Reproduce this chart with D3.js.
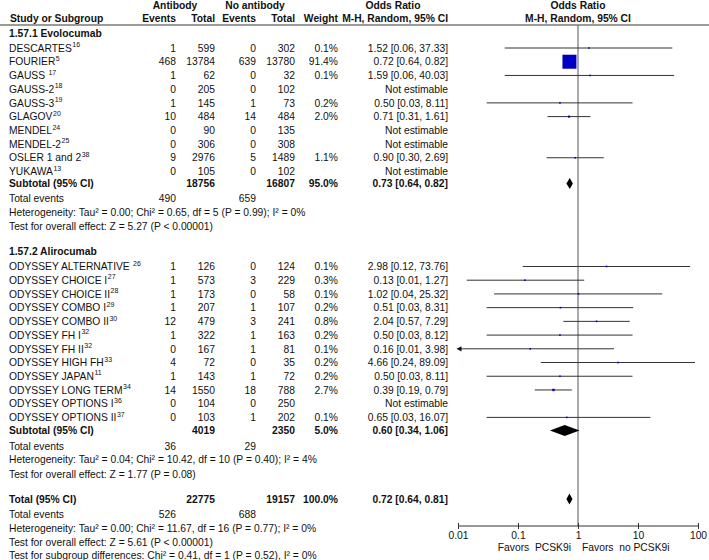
<!DOCTYPE html>
<html>
<head>
<meta charset="utf-8">
<script src="https://cdnjs.cloudflare.com/ajax/libs/d3/7.8.5/d3.min.js"></script>
<style>
body { margin: 0; background: #fff; }
text { font-family: "Liberation Sans", Arial, sans-serif; font-size: 10.3px; fill: #111; white-space: pre; }
.b { font-weight: bold; }
</style>
</head>
<body>
<script>
// ---- data: 1.57.1 Evolocumab
var evoNames = ["DESCARTES", "FOURIER", "GAUSS ", "GAUSS-2", "GAUSS-3", "GLAGOV", "MENDEL", "MENDEL-2", "OSLER 1 and 2", "YUKAWA"];
var evoRefs = ["16", "5", "17", "18", "19", "20", "24", "25", "38", "13"];
var evoAbEvents = [1, 468, 1, 0, 1, 10, 0, 0, 9, 0];
var evoAbTotal = [599, 13784, 62, 205, 145, 484, 90, 306, 2976, 105];
var evoNoEvents = [0, 639, 0, 0, 1, 14, 0, 0, 5, 0];
var evoNoTotal = [302, 13780, 32, 102, 73, 484, 135, 308, 1489, 102];
var evoWeight = [0.1, 91.4, 0.1, null, 0.2, 2.0, null, null, 1.1, null];
var evoOR = [1.52, 0.72, 1.59, null, 0.50, 0.71, null, null, 0.90, null];
var evoLo = [0.06, 0.64, 0.06, null, 0.03, 0.31, null, null, 0.30, null];
var evoHi = [37.33, 0.82, 40.03, null, 8.11, 1.61, null, null, 2.69, null];

// ---- data: 1.57.2 Alirocumab
var aliNames = ["ODYSSEY ALTERNATIVE ", "ODYSSEY CHOICE I", "ODYSSEY CHOICE II", "ODYSSEY COMBO I", "ODYSSEY COMBO II",
  "ODYSSEY FH I", "ODYSSEY FH II", "ODYSSEY HIGH FH", "ODYSSEY JAPAN", "ODYSSEY LONG TERM", "ODYSSEY OPTIONS I", "ODYSSEY OPTIONS II"];
var aliRefs = ["26", "27", "28", "29", "30", "32", "32", "33", "11", "34", "36", "37"];
var aliAbEvents = [1, 1, 1, 1, 12, 1, 0, 4, 1, 14, 0, 0];
var aliAbTotal = [126, 573, 173, 207, 479, 322, 167, 72, 143, 1550, 104, 103];
var aliNoEvents = [0, 3, 0, 1, 3, 1, 1, 0, 1, 18, 0, 1];
var aliNoTotal = [124, 229, 58, 107, 241, 163, 81, 35, 72, 788, 250, 202];
var aliWeight = [0.1, 0.3, 0.1, 0.2, 0.8, 0.2, 0.1, 0.2, 0.2, 2.7, null, 0.1];
var aliOR = [2.98, 0.13, 1.02, 0.51, 2.04, 0.50, 0.16, 4.66, 0.50, 0.39, null, 0.65];
var aliLo = [0.12, 0.014, 0.04, 0.03, 0.57, 0.03, 0.007, 0.24, 0.03, 0.19, null, 0.03];
var aliHi = [73.76, 1.27, 25.32, 8.31, 7.29, 8.12, 3.98, 89.09, 8.11, 0.79, null, 16.07];

// ---- subtotals and totals
var pooledLabels = ["Subtotal (95% CI)", "Subtotal (95% CI)", "Total (95% CI)"];
var pooledAbTotal = [18756, 4019, 22775];
var pooledNoTotal = [16807, 2350, 19157];
var pooledWeight = [95.0, 5.0, 100.0];
var pooledOR = [0.73, 0.60, 0.72];
var pooledLo = [0.64, 0.34, 0.64];
var pooledHi = [0.82, 1.06, 0.81];
var pooledAbEvents = [490, 36, 526];
var pooledNoEvents = [659, 29, 688];
var heterogeneity = [
  "Heterogeneity: Tau\u00b2 = 0.00; Chi\u00b2 = 0.65, df = 5 (P = 0.99); I\u00b2 = 0%",
  "Heterogeneity: Tau\u00b2 = 0.04; Chi\u00b2 = 10.42, df = 10 (P = 0.40); I\u00b2 = 4%",
  "Heterogeneity: Tau\u00b2 = 0.00; Chi\u00b2 = 11.67, df = 16 (P = 0.77); I\u00b2 = 0%"
];
var overallEffect = [
  "Test for overall effect: Z = 5.27 (P < 0.00001)",
  "Test for overall effect: Z = 1.77 (P = 0.08)",
  "Test for overall effect: Z = 5.61 (P < 0.00001)"
];
var subgroupTest = "Test for subgroup differences: Chi\u00b2 = 0.41, df = 1 (P = 0.52), I\u00b2 = 0%";
var groupTitles = ["1.57.1 Evolocumab", "1.57.2 Alirocumab"];
var axisTicks = [0.01, 0.1, 1, 10, 100];
var axisTickLabels = ["0.01", "0.1", "1", "10", "100"];
var favorLeft = "Favors  PCSK9i";
var favorRight = "Favors  no PCSK9i";

// ---- layout
var W = 709, H = 560;
var col = { name: 9, abEv: 176, abN: 215, noEv: 256, noN: 295, wt: 338, ci: 448 };
var x = d3.scaleLog().domain([0.01, 100]).range([458, 698]);
var step = 13.72;

var svg = d3.select("body").append("svg").attr("width", W).attr("height", H);

function txt(xp, yc, s, anchor, bold) {
  return svg.append("text").attr("x", xp).attr("y", yc + 3.7)
    .attr("text-anchor", anchor || "start")
    .attr("class", bold ? "b" : null).text(s);
}
function fmtCI(o, l, h) { return o.toFixed(2) + " [" + l.toFixed(2) + ", " + h.toFixed(2) + "]"; }

// header
txt(175, 5, "Antibody", "middle", true);
txt(255, 5, "No antibody", "middle", true);
txt(393, 5, "Odds Ratio", "middle", true);
txt(578, 5, "Odds Ratio", "middle", true);
txt(col.name + 1, 18.5, "Study or Subgroup", "start", true);
txt(col.abEv, 18.5, "Events", "end", true);
txt(col.abN, 18.5, "Total", "end", true);
txt(col.noEv, 18.5, "Events", "end", true);
txt(col.noN, 18.5, "Total", "end", true);
txt(col.wt, 18.5, "Weight", "end", true);
txt(col.ci, 18.5, "M-H, Random, 95% CI", "end", true);
txt(578, 18.5, "M-H, Random, 95% CI", "middle", true);
svg.append("line").attr("x1", 0).attr("x2", W).attr("y1", 25).attr("y2", 25)
  .attr("stroke", "#7a7a7a").attr("stroke-width", 1.5);

var axisY = 526;
svg.append("line").attr("x1", x(1)).attr("x2", x(1)).attr("y1", 25).attr("y2", axisY)
  .attr("stroke", "#555").attr("stroke-width", 1);

var plot = svg.append("g");

function study(yc, name, ref, ae, an, ne, nn, w, o, l, h) {
  var t = txt(col.name, yc, "", "start", false);
  t.append("tspan").text(name);
  t.append("tspan").attr("dx", 0.5).attr("dy", -4.5).style("font-size", "7px").text(ref);
  txt(col.abEv, yc, String(ae), "end");
  txt(col.abN, yc, String(an), "end");
  txt(col.noEv, yc, String(ne), "end");
  txt(col.noN, yc, String(nn), "end");
  if (w == null) {
    txt(col.ci, yc, "Not estimable", "end");
    return;
  }
  txt(col.wt, yc, w.toFixed(1) + "%", "end");
  txt(col.ci, yc, fmtCI(o, l, h), "end");
  var lo = Math.max(l, x.domain()[0]), hi = Math.min(h, x.domain()[1]);
  plot.append("line").attr("x1", x(lo)).attr("x2", x(hi)).attr("y1", yc).attr("y2", yc)
    .attr("stroke", "#333").attr("stroke-width", 1);
  if (l < x.domain()[0]) {
    var ax = x(lo) - 1.5;
    plot.append("path").attr("d", "M" + ax + "," + yc + "l5,-2.6l0,5.2z").attr("fill", "#111");
  }
  var s = Math.max(1.6, 14 * Math.sqrt(w / 91.4));
  plot.append("rect").attr("x", x(o) - s / 2).attr("y", yc - s / 2).attr("width", s).attr("height", s)
    .attr("fill", "#0000c4");
}

function pooled(i, yc) {
  txt(col.name, yc, pooledLabels[i], "start", true);
  txt(col.abN, yc, String(pooledAbTotal[i]), "end", true);
  txt(col.noN, yc, String(pooledNoTotal[i]), "end", true);
  txt(col.wt, yc, pooledWeight[i].toFixed(1) + "%", "end", true);
  txt(col.ci, yc, fmtCI(pooledOR[i], pooledLo[i], pooledHi[i]), "end", true);
  plot.append("path")
    .attr("d", "M" + x(pooledLo[i]) + "," + yc + "L" + x(pooledOR[i]) + "," + (yc - 5.5) +
      "L" + x(pooledHi[i]) + "," + yc + "L" + x(pooledOR[i]) + "," + (yc + 5.5) + "Z")
    .attr("fill", "#000");
}

function footer(i, y0) {
  txt(col.name, y0, "Total events");
  txt(col.abEv, y0, String(pooledAbEvents[i]), "end");
  txt(col.noEv, y0, String(pooledNoEvents[i]), "end");
  txt(col.name, y0 + 13.8, heterogeneity[i]);
  txt(col.name, y0 + 28, overallEffect[i]);
}

// group 1
var y = 33;
txt(col.name, y, groupTitles[0], "start", true);
y += 15;
evoNames.forEach(function (n, i) {
  study(y + i * step, n, evoRefs[i], evoAbEvents[i], evoAbTotal[i], evoNoEvents[i], evoNoTotal[i],
    evoWeight[i], evoOR[i], evoLo[i], evoHi[i]);
});
y += (evoNames.length - 1) * step + 12;
pooled(0, y);
y += 15;
footer(0, y);
y += 28 + 25;

// group 2
txt(col.name, y, groupTitles[1], "start", true);
y += 15;
aliNames.forEach(function (n, i) {
  study(y + i * step, n, aliRefs[i], aliAbEvents[i], aliAbTotal[i], aliNoEvents[i], aliNoTotal[i],
    aliWeight[i], aliOR[i], aliLo[i], aliHi[i]);
});
y += (aliNames.length - 1) * step + 13;
pooled(1, y);
y += 15.5;
footer(1, y);
y += 28 + 25;

// overall
pooled(2, y);
y += 15.5;
footer(2, y);
txt(col.name, y + 41, subgroupTest);

// axis
var axis = d3.axisBottom(x).tickValues(axisTicks)
  .tickFormat(function (d, i) { return axisTickLabels[i]; })
  .tickSize(3).tickPadding(2.5);
var ag = svg.append("g").attr("transform", "translate(0," + axisY + ")").call(axis);
ag.select(".domain").attr("stroke", "#333").attr("d", "M" + x(0.01) + ",0H" + x(100));
ag.selectAll(".tick line").attr("y1", -3).attr("stroke", "#333");
ag.selectAll(".tick text").style("fill", "#111");
ag.attr("font-family", null).attr("font-size", null);

txt(x(1) - 7, 547.5, favorLeft, "end");
txt(x(1) + 4, 547.5, favorRight, "start");
</script>
</body>
</html>
